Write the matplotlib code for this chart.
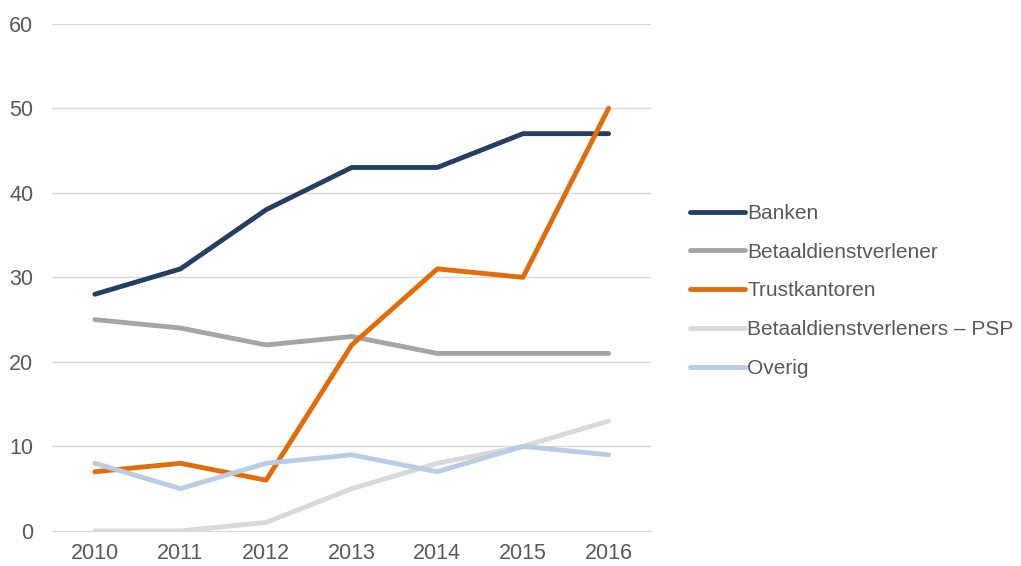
import matplotlib.pyplot as plt

plt.rcParams['font.family'] = ['Liberation Sans', 'DejaVu Sans']

# data
years = ["2010", "2011", "2012", "2013", "2014", "2015", "2016"]
banken = [28, 31, 38, 43, 43, 47, 47]
betaaldienst = [25, 24, 22, 23, 21, 21, 21]
trust = [7, 8, 6, 22, 31, 30, 50]
psp = [0, 0, 1, 5, 8, 10, 13]
overig = [8, 5, 8, 9, 7, 10, 9]

series = [
    ("Banken", banken, "#243F60"),
    ("Betaaldienstverlener", betaaldienst, "#A5A5A5"),
    ("Trustkantoren", trust, "#E36C09"),
    ("Betaaldienstverleners – PSP", psp, "#D9D9D9"),
    ("Overig", overig, "#B8CCE4"),
]

fig = plt.figure(figsize=(10.21, 5.66), dpi=100)
ax = fig.add_axes([0.051, 0.062, 0.587, 0.896])

x = range(len(years))
for name, vals, col in series:
    ax.plot(x, vals, color=col, lw=3.5, label=name, solid_capstyle="round", solid_joinstyle="round")

ax.set_xlim(-0.5, 6.5)
ax.set_ylim(0, 60)
ax.set_yticks(range(0, 61, 10))
ax.set_xticks(list(x))
ax.set_xticklabels(years)
ax.yaxis.grid(True, color="#D9D9D9", lw=1)
ax.set_axisbelow(True)
for s in ax.spines.values():
    s.set_visible(False)
ax.spines["bottom"].set_visible(True)
ax.spines["bottom"].set_color("#D9D9D9")
ax.tick_params(length=0, labelsize=15.5, colors="#595959")
ax.tick_params(axis="x", pad=9)
ax.tick_params(axis="y", pad=13.5)

leg = fig.legend(loc="center left", bbox_to_anchor=(0.657, 0.486), frameon=False,
                 fontsize=15, handlelength=2.65, handletextpad=0.12, labelspacing=0.95)
for t in leg.get_texts():
    t.set_color("#595959")

fig.savefig("out.png", dpi=100)
